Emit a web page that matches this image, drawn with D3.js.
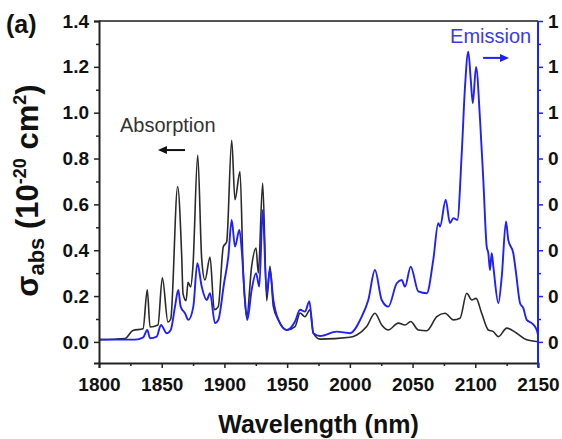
<!DOCTYPE html>
<html>
<head>
<meta charset="utf-8">
<script src="https://cdn.jsdelivr.net/npm/d3@7"></script>
<style>
  body { margin: 0; background: #fff; }
  text { font-family: "Liberation Sans", Arial, sans-serif; }
</style>
</head>
<body>
<div class="canvas"></div>
<script>
// [wavelength nm, sigma]
const absorption = [
  [1800, 0.01], [1820.7, 0.015], [1827.1, 0.05], [1835.1, 0.057], [1838.5, 0.227],
  [1840.7, 0.065], [1847.0, 0.074], [1850.5, 0.28], [1855.0, 0.087], [1857.2, 0.10],
  [1862.7, 0.677], [1865.9, 0.38], [1867.0, 0.21], [1869.4, 0.18], [1871.0, 0.26],
  [1873.1, 0.24], [1874.9, 0.33], [1878.7, 0.815], [1881.9, 0.36], [1884.5, 0.27],
  [1888.5, 0.37], [1891.9, 0.14], [1895.1, 0.154], [1899.1, 0.415], [1901.8, 0.437],
  [1905.8, 0.88], [1908.4, 0.62], [1912.4, 0.743], [1915.0, 0.30], [1917.8, 0.11],
  [1921.7, 0.33], [1925.2, 0.41], [1927.0, 0.30], [1930.5, 0.693], [1933.7, 0.18],
  [1936.3, 0.33], [1939.0, 0.154], [1943.0, 0.096], [1949.7, 0.052], [1956.3, 0.067],
  [1960.3, 0.126], [1964.2, 0.11], [1968.2, 0.14], [1970.9, 0.038], [1976.2, 0.012],
  [2000.1, 0.02], [2005.5, 0.03], [2013.4, 0.067], [2020.0, 0.125], [2025.4, 0.074],
  [2030.7, 0.052], [2038.6, 0.082], [2044.0, 0.074], [2048.5, 0.089], [2054.6, 0.052],
  [2061.3, 0.049], [2069.3, 0.11], [2075.9, 0.125], [2082.5, 0.096], [2087.8, 0.103],
  [2093.2, 0.212], [2097.2, 0.183], [2100.6, 0.19], [2105.1, 0.125], [2110.4, 0.052],
  [2114.4, 0.045], [2118.4, 0.023], [2125.1, 0.06], [2133.0, 0.038], [2141.0, 0.009],
  [2150, 0.001]
];

const emission = [
  [1800, 0.01], [1828.7, 0.01], [1835.3, 0.02], [1838.5, 0.052], [1840.7, 0.016],
  [1846.0, 0.023], [1849.4, 0.074], [1854.0, 0.038], [1857.2, 0.052], [1860.6, 0.154],
  [1863.2, 0.227], [1865.1, 0.154], [1868.6, 0.125], [1871.2, 0.096], [1875.2, 0.154],
  [1878.4, 0.343], [1881.9, 0.241], [1885.9, 0.183], [1888.5, 0.212], [1892.5, 0.082],
  [1895.1, 0.096], [1899.7, 0.256], [1903.1, 0.372], [1905.8, 0.532], [1908.4, 0.416],
  [1911.9, 0.488], [1913.8, 0.40], [1916.4, 0.183], [1918.2, 0.096], [1921.7, 0.227],
  [1925.2, 0.30], [1927.8, 0.241], [1930.5, 0.576], [1933.7, 0.212], [1936.3, 0.314],
  [1939.0, 0.183], [1943.0, 0.096], [1949.7, 0.052], [1956.3, 0.089], [1960.3, 0.14],
  [1964.2, 0.132], [1967.7, 0.176], [1970.9, 0.038], [1976.2, 0.026], [1989.5, 0.045],
  [2000.1, 0.038], [2009.4, 0.11], [2014.7, 0.183], [2020.0, 0.314], [2025.4, 0.183],
  [2030.7, 0.154], [2037.4, 0.256], [2041.3, 0.27], [2044.0, 0.241], [2048.5, 0.328],
  [2054.6, 0.22], [2061.3, 0.212], [2066.5, 0.358], [2070.5, 0.518], [2071.9, 0.503],
  [2076.4, 0.62], [2079.8, 0.518], [2082.5, 0.54], [2085.7, 0.532], [2089.2, 0.823],
  [2091.8, 1.113], [2094.4, 1.266], [2096.4, 1.143], [2098.0, 1.041], [2100.6, 1.20],
  [2103.8, 0.968], [2106.4, 0.706], [2109.1, 0.416], [2110.4, 0.387], [2111.7, 0.314],
  [2113.1, 0.387], [2114.4, 0.328], [2118.4, 0.169], [2121.1, 0.285], [2124.5, 0.525],
  [2126.3, 0.445], [2130.3, 0.387], [2132.5, 0.30], [2135.7, 0.169], [2138.3, 0.147],
  [2141.0, 0.096], [2145.0, 0.082], [2149.0, 0.052], [2150, 0.03]
];

const xTicks = [1800, 1850, 1900, 1950, 2000, 2050, 2100, 2150];
const xMinorTicks = [1825, 1875, 1925, 1975, 2025, 2075, 2125];
const yTicks = [0.0, 0.2, 0.4, 0.6, 0.8, 1.0, 1.2, 1.4];
const yMinorTicks = [0.1, 0.3, 0.5, 0.7, 0.9, 1.1, 1.3];
// right axis labels are cut off at the picture edge, only the first digit shows
const rightTickLabels = ["0", "0", "0", "0", "0", "1", "1", "1"];

const width = 562;
const height = 439;
const margin = { top: 21, right: 24, bottom: 76, left: 99 };
const blue = "#1f1fff";

const svg = d3
  .select(".canvas")
  .append("svg")
  .attr("width", width)
  .attr("height", height);

// scales
const x = d3.scaleLinear().domain([1800, 2150]).range([margin.left, width - margin.right]);
const y = d3.scaleLinear().domain([-0.092, 1.4]).range([height - margin.bottom, margin.top]);

// top frame line
svg
  .append("line")
  .attr("x1", x(1800))
  .attr("x2", x(2150))
  .attr("y1", y(1.4))
  .attr("y2", y(1.4))
  .attr("stroke", "#555")
  .attr("stroke-width", 2);

// curves
const line = d3
  .line()
  .curve(d3.curveMonotoneX)
  .x((d) => x(d[0]))
  .y((d) => y(d[1]));

svg
  .append("path")
  .datum(absorption)
  .attr("fill", "none")
  .attr("stroke", "#2a2a2a")
  .attr("stroke-width", 1.6)
  .attr("stroke-linejoin", "round")
  .attr("d", line);

svg
  .append("path")
  .datum(emission)
  .attr("fill", "none")
  .attr("stroke", blue)
  .attr("stroke-width", 1.9)
  .attr("stroke-linejoin", "round")
  .attr("d", line);

const tickFont = (g) =>
  g.selectAll("text")
    .attr("font-size", 19)
    .attr("font-weight", "bold")
    .attr("fill", "#111");

// bottom axis
const xAxisGroup = svg
  .append("g")
  .attr("transform", `translate(0,${height - margin.bottom})`);
xAxisGroup.call(
  d3.axisBottom(x).tickValues(xTicks).tickSize(5).tickPadding(10).tickFormat(d3.format("d"))
);
xAxisGroup
  .append("g")
  .call(d3.axisBottom(x).tickValues(xMinorTicks).tickSize(3).tickFormat(""))
  .select(".domain")
  .remove();
xAxisGroup.selectAll("path.domain").attr("stroke", "#222").attr("stroke-width", 2);
xAxisGroup.selectAll("line").attr("stroke", "#222").attr("stroke-width", 1.5);
tickFont(xAxisGroup);

// left axis
const yAxisGroup = svg.append("g").attr("transform", `translate(${margin.left},0)`);
yAxisGroup.call(
  d3.axisLeft(y).tickValues(yTicks).tickSize(5).tickPadding(5).tickFormat(d3.format(".1f"))
);
yAxisGroup
  .append("g")
  .call(d3.axisLeft(y).tickValues(yMinorTicks).tickSize(3).tickFormat(""))
  .select(".domain")
  .remove();
yAxisGroup.selectAll("path.domain").attr("stroke", "#222").attr("stroke-width", 2);
yAxisGroup.selectAll("line").attr("stroke", "#222").attr("stroke-width", 1.5);
tickFont(yAxisGroup);

// right axis (emission, blue)
const rAxisGroup = svg
  .append("g")
  .attr("transform", `translate(${width - margin.right},0)`);
rAxisGroup.call(
  d3.axisRight(y)
    .tickValues(yTicks)
    .tickSize(5)
    .tickPadding(5)
    .tickFormat((d, i) => rightTickLabels[i])
);
rAxisGroup
  .append("g")
  .call(d3.axisRight(y).tickValues(yMinorTicks).tickSize(3).tickFormat(""))
  .select(".domain")
  .remove();
rAxisGroup.selectAll("path.domain").remove();
rAxisGroup
  .append("line")
  .attr("x1", 0)
  .attr("x2", 0)
  .attr("y1", y(1.4))
  .attr("y2", y(-0.092) + 4)
  .attr("stroke", blue)
  .attr("stroke-width", 2);
rAxisGroup.selectAll(".tick line").attr("stroke", blue).attr("stroke-width", 1.5);
tickFont(rAxisGroup);

// axis titles
svg
  .append("text")
  .attr("x", (x(1800) + x(2150)) / 2)
  .attr("y", 433)
  .attr("text-anchor", "middle")
  .attr("font-size", 25)
  .attr("font-weight", "bold")
  .attr("fill", "#111")
  .text("Wavelength (nm)");

const yTitle = svg
  .append("text")
  .attr("transform", `translate(38,${y(0.66)}) rotate(-90)`)
  .attr("text-anchor", "middle")
  .attr("font-size", 31)
  .attr("font-weight", "bold")
  .attr("fill", "#111");
yTitle.append("tspan").text("σ");
yTitle.append("tspan").attr("font-size", 22).attr("dy", 6).text("abs");
yTitle.append("tspan").attr("dy", -6).text(" (10");
yTitle.append("tspan").attr("font-size", 18).attr("dy", -12).text("-20");
yTitle.append("tspan").attr("dy", 12).text(" cm");
yTitle.append("tspan").attr("font-size", 18).attr("dy", -12).text("2");
yTitle.append("tspan").attr("dy", 12).text(")");

// panel label
svg
  .append("text")
  .attr("x", 6)
  .attr("y", 33)
  .attr("font-size", 25)
  .attr("font-weight", "bold")
  .attr("fill", "#111")
  .text("(a)");

// annotations
svg
  .append("text")
  .attr("x", x(1816.7))
  .attr("y", y(0.916))
  .attr("font-size", 20)
  .attr("fill", "#333")
  .text("Absorption");

svg
  .append("text")
  .attr("x", x(2079.9))
  .attr("y", y(1.304))
  .attr("font-size", 20)
  .attr("fill", "#3a3af0")
  .text("Emission");

const arrow = (x1, x2, yv, color) => {
  const dir = Math.sign(x2 - x1);
  svg
    .append("line")
    .attr("x1", x(x1))
    .attr("x2", x(x2) - dir * 6)
    .attr("y1", y(yv))
    .attr("y2", y(yv))
    .attr("stroke", color)
    .attr("stroke-width", 2);
  const tip = x(x2);
  svg
    .append("path")
    .attr("d", `M${tip},${y(yv)} L${tip - dir * 9},${y(yv) - 4} L${tip - dir * 9},${y(yv) + 4} Z`)
    .attr("fill", color);
};
arrow(1868.6, 1847, 0.837, "#111");
arrow(2106.2, 2126.9, 1.239, blue);
</script>
</body>
</html>
